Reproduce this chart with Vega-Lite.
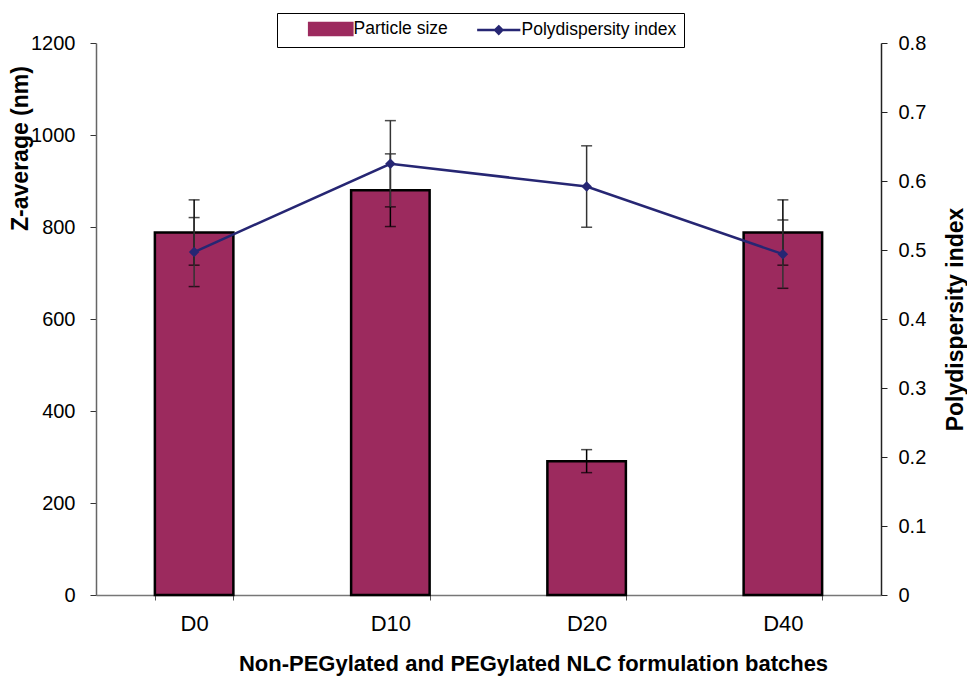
{
  "$schema": "https://vega.github.io/schema/vega-lite/v6.json",
  "width": 785,
  "height": 552,
  "autosize": "none",
  "padding": {"left": 96, "top": 43, "right": 86, "bottom": 81},
  "background": "white",
  "config": {
    "view": {"stroke": null},
    "font": "Liberation Sans",
    "axis": {"grid": false, "labelFont": "Liberation Sans", "titleFont": "Liberation Sans", "labelColor": "black", "titleColor": "black"},
    "legend": {
      "title": null,
      "orient": "none",
      "direction": "horizontal",
      "legendX": 181,
      "legendY": -30,
      "strokeColor": "black",
      "fillColor": "white",
      "padding": 7,
      "labelFont": "Liberation Sans",
      "labelFontSize": 17.5,
      "labelColor": "black",
      "symbolSize": 144,
      "symbolOffset": 38,
      "labelOffset": 14,
      "columnPadding": 4,
      "symbolStrokeWidth": 2.5
    }
  },
  "data": {
    "values": [
      {"batch": "D0", "size": 788, "size_err": 71, "pdi": 0.497, "pdi_err": 0.05},
      {"batch": "D10", "size": 880, "size_err": 79, "pdi": 0.625, "pdi_err": 0.0625},
      {"batch": "D20", "size": 291, "size_err": 25, "pdi": 0.592, "pdi_err": 0.059},
      {"batch": "D40", "size": 788, "size_err": 71, "pdi": 0.494, "pdi_err": 0.0495}
    ]
  },
  "encoding": {
    "x": {
      "field": "batch",
      "type": "nominal",
      "sort": ["D0", "D10", "D20", "D40"],
      "scale": {"paddingInner": 0.6, "paddingOuter": 0.3},
      "axis": {
        "title": "Non-PEGylated and PEGylated NLC formulation batches",
        "titleFontSize": 22,
        "titleFontWeight": "bold",
        "titleX": 437,
        "titleY": 75,
        "titleAlign": "center",
        "titleBaseline": "alphabetic",
        "labelFontSize": 22,
        "labelAngle": 0,
        "labelPadding": 13,
        "tickBand": "extent",
        "tickSize": 5,
        "tickColor": "#555",
        "domainColor": "#777",
        "domainWidth": 1.5
      }
    }
  },
  "layer": [
    {
      "layer": [
        {
          "mark": {"type": "bar", "stroke": "black", "strokeWidth": 2.5},
          "encoding": {
            "y": {
              "field": "size",
              "type": "quantitative",
              "title": "Z-average (nm)",
              "scale": {"domain": [0, 1200], "nice": false},
              "axis": {
                "title": "Z-average (nm)",
                "values": [0, 200, 400, 600, 800, 1000, 1200],
                "format": "d",
                "titleFontSize": 23,
                "titleFontWeight": "bold",
                "titleAngle": -90,
                "titleX": -69,
                "titleY": 105,
                "titleAlign": "center",
                "titleBaseline": "alphabetic",
                "labelFontSize": 20,
                "labelPadding": 15,
                "tickSize": 6,
                "tickColor": "#333",
                "domainColor": "#666",
                "domainWidth": 1.5
              }
            },
            "color": {
              "datum": "Particle size",
              "type": "nominal",
              "scale": {"domain": ["Particle size", "Polydispersity index"], "range": ["#9C2A5E", "#262673"]},
              "legend": {
                "symbolType": {"expr": "datum.value === 'Particle size' ? 'M-3.6,-1H3.6V1H-3.6Z' : 'M-3.6,0H3.6M0,-0.6L0.6,0L0,0.6L-0.6,0Z'"},
                "symbolStrokeColor": {"expr": "datum.value === 'Particle size' ? 'black' : '#262673'"}
              }
            }
          }
        },
        {
          "mark": {"type": "errorbar", "ticks": {"size": 11, "color": "black", "thickness": 1.5}, "color": "black", "thickness": 1.5},
          "encoding": {
            "y": {"field": "size", "type": "quantitative", "title": "Z-average (nm)"},
            "yError": {"field": "size_err"}
          }
        }
      ]
    },
    {
      "layer": [
        {
          "mark": {"type": "errorbar", "ticks": {"size": 11, "color": "black", "thickness": 1.5}, "color": "#333", "thickness": 1.5},
          "encoding": {
            "y": {"field": "pdi", "type": "quantitative", "title": "Polydispersity index"},
            "yError": {"field": "pdi_err"}
          }
        },
        {
          "mark": {"type": "line", "strokeWidth": 2.5},
          "encoding": {
            "y": {
              "field": "pdi",
              "type": "quantitative",
              "title": "Polydispersity index",
              "scale": {"domain": [0, 0.8], "nice": false},
              "axis": {
                "orient": "right",
                "title": "Polydispersity index",
                "values": [0, 0.1, 0.2, 0.3, 0.4, 0.5, 0.6, 0.7, 0.8],
                "format": "~g",
                "titleFontSize": 23,
                "titleFontWeight": "bold",
                "titleAngle": -90,
                "titleX": 81,
                "titleY": 276,
                "titleAlign": "center",
                "titleBaseline": "alphabetic",
                "labelFontSize": 20,
                "labelPadding": 11,
                "tickSize": 6,
                "tickColor": "#222",
                "domainColor": "#222",
                "domainWidth": 1.5
              }
            },
            "color": {
              "datum": "Polydispersity index",
              "type": "nominal",
              "legend": {
                "symbolType": {"expr": "datum.value === 'Particle size' ? 'M-3.6,-1H3.6V1H-3.6Z' : 'M-3.6,0H3.6M0,-0.6L0.6,0L0,0.6L-0.6,0Z'"},
                "symbolStrokeColor": {"expr": "datum.value === 'Particle size' ? 'black' : '#262673'"}
              }
            }
          }
        },
        {
          "mark": {"type": "point", "shape": "diamond", "filled": true, "size": 110, "color": "#262673", "opacity": 1},
          "encoding": {
            "y": {"field": "pdi", "type": "quantitative", "title": "Polydispersity index"}
          }
        }
      ]
    }
  ],
  "resolve": {"scale": {"y": "independent"}}
}
